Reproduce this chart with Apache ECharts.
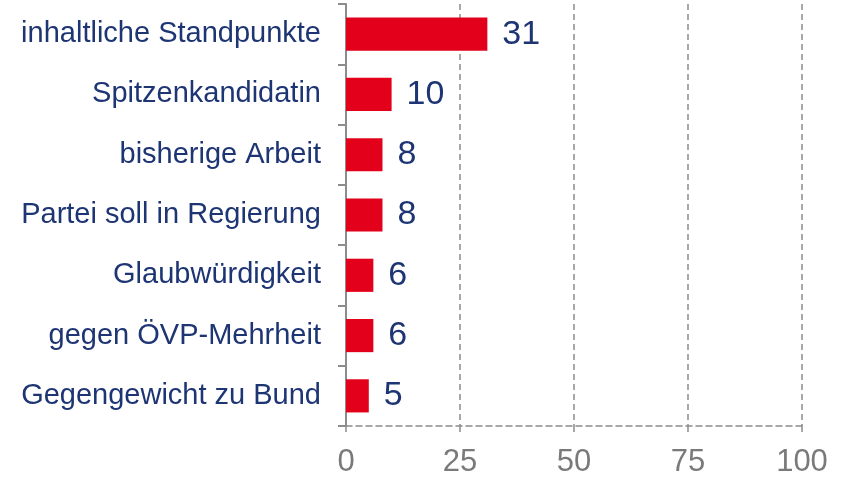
<!DOCTYPE html>
<html>
<head>
<meta charset="utf-8">
<script src="https://cdn.jsdelivr.net/npm/echarts@6/dist/echarts.min.js"></script>
<style>
html,body{margin:0;padding:0;background:#fff;}
#chart{width:842px;height:481px;}
</style>
</head>
<body>
<div id="chart"></div>
<script>
const categories = [
  "inhaltliche Standpunkte",
  "Spitzenkandidatin",
  "bisherige Arbeit",
  "Partei soll in Regierung",
  "Glaubwürdigkeit",
  "gegen ÖVP-Mehrheit",
  "Gegengewicht zu Bund"
];
const values = [31, 10, 8, 8, 6, 6, 5];
const xTicks = [0, 25, 50, 75, 100];

const navy = "#1E3574";
const gray = "#8C8C8C";
const font = "Liberation Sans, Arial, sans-serif";

const chart = echarts.init(document.getElementById('chart'), null, {renderer: 'canvas'});
chart.setOption({
  animation: false,
  backgroundColor: '#fff',
  grid: {left: 346, right: 40, top: 4, bottom: 55, containLabel: false},
  xAxis: {
    type: 'value',
    min: xTicks[0],
    max: xTicks[xTicks.length - 1],
    interval: 25,
    axisLine: {show: true, lineStyle: {color: gray, width: 1.5, type: [6, 4]}},
    axisTick: {show: true, length: 6, lineStyle: {color: gray, width: 1.5}},
    splitLine: {show: true, lineStyle: {color: gray, width: 1.5, type: [6, 4]}},
    axisLabel: {color: '#7A7A7A', fontSize: 31, fontFamily: font, margin: 21}
  },
  yAxis: {
    type: 'category',
    data: categories,
    inverse: true,
    axisLine: {show: true, lineStyle: {color: gray, width: 2}},
    axisTick: {show: true, length: 8, inside: false, lineStyle: {color: gray, width: 2}},
    axisLabel: {color: navy, fontSize: 29, fontFamily: font, margin: 25}
  },
  series: [{
    type: 'bar',
    data: values,
    barWidth: '55%',
    itemStyle: {color: '#E2001A'},
    label: {
      show: true,
      position: 'right',
      distance: 15,
      color: navy,
      fontSize: 34,
      fontFamily: font
    }
  }]
});
</script>
</body>
</html>
